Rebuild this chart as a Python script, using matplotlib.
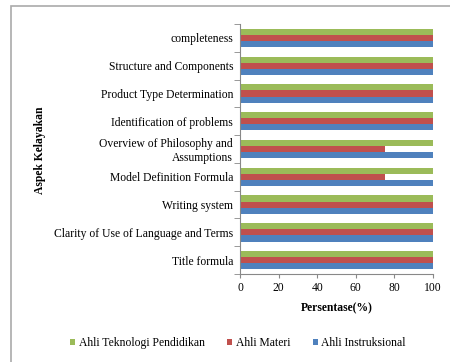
import matplotlib.pyplot as plt
import numpy as np
from matplotlib.patches import Rectangle

plt.rcParams['font.family'] = ['Liberation Serif', 'DejaVu Serif']

aspects = ["Title formula", "Clarity of Use of Language and Terms", "Writing system",
           "Model Definition Formula", "Overview of Philosophy and\nAssumptions",
           "Identification of problems", "Product Type Determination",
           "Structure and Components", "completeness"]
instruksional = [100, 100, 100, 100, 100, 100, 100, 100, 100]
materi = [100, 100, 100, 75, 75, 100, 100, 100, 100]
teknologi = [100, 100, 100, 100, 100, 100, 100, 100, 100]

fs = 8.4
fig = plt.figure(figsize=(4.5, 3.62), dpi=100)
ax = fig.add_axes([240/450, 1 - 274/362, 193/450, 250/362])

y = np.arange(len(aspects))
h = 0.22
ax.barh(y - h, instruksional, h, color='#4F81BD', label='Ahli Instruksional')
ax.barh(y, materi, h, color='#C0504D', label='Ahli Materi')
ax.barh(y + h, teknologi, h, color='#9BBB59', label='Ahli Teknologi Pendidikan')

ax.set_xlim(0, 100)
ax.set_ylim(-0.5, len(aspects) - 0.5)
ax.set_xticks([0, 20, 40, 60, 80, 100])
ax.set_yticks(y)
ax.set_yticklabels(aspects, fontsize=fs, linespacing=1.15)
ax.set_yticks(np.arange(-0.5, len(aspects)), minor=True)
ax.tick_params(axis='y', which='major', length=0, pad=5)
ax.tick_params(axis='y', which='minor', length=4, color='#888888')
ax.tick_params(axis='x', labelsize=fs, length=3, color='#888888', pad=3)
for s in ['top', 'right']:
    ax.spines[s].set_visible(False)
for s in ['left', 'bottom']:
    ax.spines[s].set_color('#888888')

ax.set_xlabel('Persentase(%)', fontsize=fs, fontweight='bold', labelpad=6)
fig.text(40/450, 1 - 150/362, 'Aspek Kelayakan', rotation=90, fontsize=fs,
         fontweight='bold', ha='center', va='center')

handles, labels = ax.get_legend_handles_labels()
fig.legend(handles[::-1], labels[::-1], loc='center', bbox_to_anchor=(238/450, 1 - 343/362),
           ncol=3, frameon=False, fontsize=fs, handlelength=0.45, handleheight=0.45,
           handletextpad=0.3, columnspacing=1.9)

fig.patches.append(Rectangle((11/450, -0.1), 1.1, 1 - 6/362 + 0.1, transform=fig.transFigure,
                             fill=False, edgecolor='#AAAAAA', linewidth=1.2))

fig.savefig('out.png', dpi=100)
